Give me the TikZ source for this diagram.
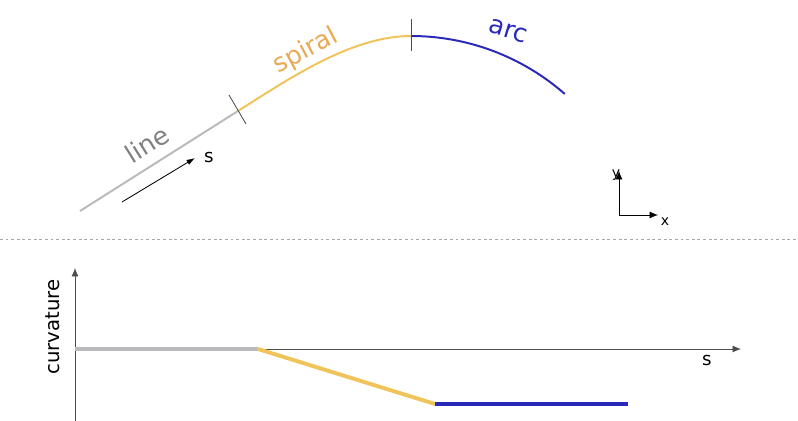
\documentclass[tikz,border=0pt]{standalone}
\usepackage{fontspec}
\setmainfont{DejaVu Sans}
\usetikzlibrary{arrows.meta, positioning, calc}

\definecolor{linegray}{RGB}{185,185,190}
\definecolor{spiralorange}{RGB}{240,196,90}
\definecolor{spiraltext}{RGB}{232,170,85}
\definecolor{arcblue}{RGB}{40,40,185}
\definecolor{textgray}{RGB}{128,128,128}

\begin{document}
\begin{tikzpicture}[
    x=0.025cm, y=-0.025cm,
    track/.style={line width=1.4pt},
    curve/.style={line width=2.8pt},
    axis/.style={-{Latex[length=6pt, width=5pt]}, line width=0.6pt, black!70},
    tick/.style={line width=0.6pt, black!70},
    label/.style={font=\fontsize{18}{20}\selectfont, inner sep=0pt},
    small/.style={font=\fontsize{10}{12}\selectfont, inner sep=1pt}
]
\useasboundingbox (0,0) rectangle (798,421);

% Track points
\coordinate (start) at (80,211);
\coordinate (j1)    at (238,111);
\coordinate (j2)    at (411,36);

% Track
\draw[track, linegray] (start) -- (j1);
\draw[track, spiralorange] (j1) .. controls (290,78) and (352,36) .. (j2);
\draw[track, arcblue] (j2) arc[start angle=-90, end angle=-48.7, radius=233] coordinate (stop);

\draw[tick] ($(j1)+(-9,-16)$) -- ($(j1)+(8,13)$);
\draw[tick] ($(j2)+(0,-17)$) -- ($(j2)+(0,15)$);

\node[label, textgray, rotate=32]     (lineLbl)   at (147,144) {line};
\node[label, spiraltext, rotate=28]   (spiralLbl) at (306,51)  {spiral};
\node[label, arcblue, rotate=-17]     (arcLbl)    at (508,31)  {arc};

% Direction of travel
\coordinate (sFrom) at (122,202);
\coordinate (sTo)   at (195,158);
\draw[-{Latex[length=6pt, width=4pt]}, line width=0.6pt] (sFrom) -- (sTo);
\node[font=\fontsize{13}{15}\selectfont, inner sep=0pt] (sLbl) at (209,158) {s};

% Frame
\coordinate (origin) at (619,215);
\coordinate (yEnd)   at (619,171);
\coordinate (xEnd)   at (658,215);
\draw[axis, black] (origin) -- (yEnd);
\draw[axis, black] (origin) -- (xEnd);
\node[small] (yLbl) at (616,175) {y};
\node[small] (xLbl) at (665,222) {x};

% Separator
\coordinate (sepL) at (0,239);
\coordinate (sepR) at (798,239);
\draw[black!35, dashed, dash pattern=on 2pt off 2pt, line width=0.6pt] (sepL) -- (sepR);

% Curvature plot
\coordinate (kOrigin) at (75,421);
\coordinate (kTop)    at (75,268);
\coordinate (sStart)  at (75,349);
\coordinate (sEnd)    at (741,349);
\draw[axis] (kOrigin) -- (kTop);
\draw[axis] (sStart) -- (sEnd);
\node[font=\fontsize{14}{16}\selectfont, rotate=90, inner sep=0pt] (kLbl) at (53,327) {curvature};
\node[font=\fontsize{13}{15}\selectfont, inner sep=0pt] (sAxisLbl) at (707,361) {s};

\coordinate (k1) at (258,349);
\coordinate (k2) at (435,404);
\coordinate (k3) at (628,404);
\draw[curve, linegray] (sStart) -- (k1);
\draw[curve, spiralorange] (k1) -- (k2);
\draw[curve, arcblue] (k2) -- (k3);

\end{tikzpicture}
\end{document}
